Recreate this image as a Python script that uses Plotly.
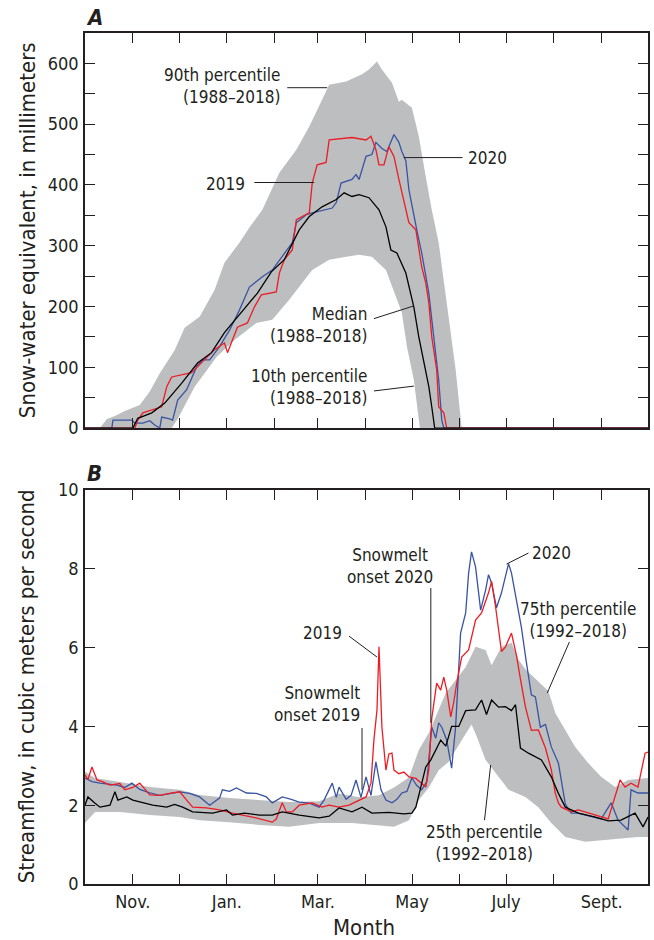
import plotly.graph_objects as go

# ---------------- Data ----------------
# x values are day of water year (0 = Oct 1)
month_start_days = [0, 31, 61, 92, 123, 151, 182, 212, 243, 273, 304, 335, 365]
month_tick_text = ["", "Nov.", "", "Jan.", "", "Mar.", "", "May", "", "July", "", "Sept.", ""]

# Panel A: snow-water equivalent (mm)
swe_p90_day = [9.7, 14.2, 19.4, 25.8, 35.5, 42.0, 48.5, 58.1, 64.6, 74.3, 84.0, 90.4, 100.1, 106.6,
               115.0, 126.0, 137.0, 145.4, 153.7, 158.3, 169.3, 179.6, 184.1, 189.3, 192.5, 199.0,
               203.5, 205.4, 211.9, 216.4, 220.9, 224.8, 229.3, 235.8, 240.3, 244.2]
swe_p90_mm = [0, 15, 20, 28, 38, 60, 90, 128, 165, 183, 227, 272, 305, 330,
              359, 420, 458, 496, 540, 565, 570, 582, 590, 603, 590, 568,
              537, 540, 527, 480, 414, 359, 305, 178, 96, 0]

swe_p10_day = [0, 56.2, 60.1, 71.1, 85.3, 96.9, 111.1, 121.4, 132.4, 138.9, 147.3, 158.3, 169.3,
               177.7, 186.0, 195.1, 199.0, 205.4, 208.7, 213.2, 217.1, 365]
swe_p10_mm = [0, 0, 15, 68, 117, 145, 173, 178, 211, 232, 260, 277, 282,
              285, 282, 260, 232, 190, 134, 79, 0, 0]

swe_med_day = [0, 31.0, 34.2, 43.3, 51.7, 62.7, 73.0, 82.0, 90.4, 101.4, 111.8, 120.8, 129.2, 138.9,
               145.4, 153.7, 162.9, 168.0, 173.1, 177.7, 184.1, 190.6, 195.1, 198.3, 202.2, 208.0,
               210.0, 213.2, 216.4, 219.6, 222.9, 224.8, 226.7, 365]
swe_med_mm = [0, 0, 16, 25, 41, 74, 107, 124, 157, 190, 222, 257, 277, 326,
              348, 364, 376, 387, 381, 384, 379, 359, 331, 293, 288, 255,
              232, 199, 150, 112, 68, 35, 0, 0]

swe_2019_day = [0, 32.3, 34.2, 37.5, 49.7, 53.0, 56.2, 61.4, 69.1, 73.0, 77.5, 84.0, 90.4, 92.4,
                98.8, 105.3, 109.8, 114.3, 124.0, 126.0, 129.2, 134.4, 137.0, 145.4, 147.3, 150.5,
                156.3, 158.3, 173.1, 182.2, 185.4, 188.6, 190.6, 193.8, 197.0, 200.3, 203.5, 206.7,
                210.0, 214.5, 216.4, 218.3, 220.9, 222.9, 224.8, 228.0, 229.3, 232.6, 234.5, 365]
swe_2019_mm = [0, 0, 13, 25, 35, 68, 84, 87, 91, 101, 112, 129, 140, 124,
               166, 173, 199, 219, 224, 255, 277, 293, 343, 354, 403, 433,
               437, 474, 478, 474, 480, 458, 433, 433, 463, 447, 409, 376,
               338, 326, 298, 265, 239, 206, 150, 96, 35, 25, 0, 0]

swe_2020_day = [0, 17.4, 18.1, 30.4, 32.3, 37.5, 42.0, 45.2, 48.5, 49.7, 54.9, 56.8, 60.1, 65.9,
                72.4, 76.2, 80.8, 87.2, 93.7, 100.1, 106.6, 115.0, 121.4, 127.9, 134.4, 137.0,
                143.4, 147.3, 160.3, 162.9, 166.0, 173.1, 175.7, 177.7, 182.2, 186.0, 188.6, 192.5,
                195.7, 200.3, 203.5, 205.4, 208.0, 210.0, 211.9, 215.1, 218.3, 222.9, 226.1, 229.3,
                231.3, 232.6, 365]
swe_2020_mm = [0, 0, 13, 13, 8, 8, 12, 5, 0, 18, 15, 13, 46, 63,
               101, 112, 112, 134, 161, 194, 232, 249, 260, 282, 305, 338,
               351, 354, 362, 371, 403, 409, 417, 409, 447, 450, 470, 460,
               455, 483, 470, 455, 440, 392, 365, 326, 288, 222, 150, 79,
               13, 0, 0]

# Panel B: streamflow (m3/s)
q25_day = [0, 6.5, 22.6, 42.0, 61.4, 74.3, 93.7, 113.1, 132.4, 151.8, 173.1, 200.3, 210.0, 216.4,
           222.9, 229.3, 235.8, 244.2, 250.6, 253.9, 259.7, 266.2, 274.6, 285.5, 293.9, 302.3,
           311.4, 324.3, 334.6, 345.6, 358.5, 365]
q25_val = [1.55, 1.83, 1.83, 1.75, 1.70, 1.62, 1.57, 1.50, 1.45, 1.55, 1.55, 1.45, 1.62, 2.13,
           2.45, 2.89, 3.10, 3.65, 4.05, 3.75, 3.15, 2.82, 2.39, 2.21, 1.95, 1.55,
           1.19, 1.07, 1.12, 1.15, 1.19, 1.19]

q75_day = [0, 6.5, 22.6, 42.0, 61.4, 74.3, 93.7, 113.1, 132.4, 151.8, 164.7, 177.7, 190.6, 200.3,
           210.0, 216.4, 222.9, 233.9, 246.8, 253.2, 259.7, 263.6, 270.0, 276.5, 281.0, 285.5,
           293.9, 300.4, 304.9, 311.4, 317.8, 326.2, 334.6, 343.7, 352.1, 365]
q75_val = [2.85, 2.69, 2.59, 2.46, 2.39, 2.26, 2.18, 2.13, 2.08, 2.10, 2.30, 2.20, 2.25, 2.45,
           2.70, 3.40, 3.83, 4.85, 5.51, 6.02, 5.94, 5.55, 6.02, 6.12, 5.70, 5.45,
           5.15, 4.90, 4.34, 3.91, 3.48, 3.07, 2.72, 2.46, 2.64, 2.69]

qmed_day = [0, 1.9, 6.5, 9.7, 16.2, 19.4, 21.3, 27.1, 31.0, 37.5, 43.9, 53.0, 58.1, 63.3, 69.8,
            82.7, 91.7, 95.6, 103.4, 113.1, 121.4, 127.9, 138.9, 151.8, 158.3, 164.7, 173.1,
            179.6, 186.0, 197.0, 206.7, 211.9, 214.5, 217.7, 220.9, 224.2, 230.6, 233.9, 237.7,
            242.3, 246.8, 253.2, 257.1, 260.3, 263.6, 268.1, 272.6, 276.5, 279.1, 282.3, 287.5,
            295.9, 302.3, 306.9, 311.4, 319.8, 330.8, 339.2, 347.5, 356.6, 361.8, 365]
qmed_val = [2.00, 2.21, 2.05, 1.95, 2.00, 2.34, 2.13, 2.21, 2.13, 2.06, 2.00, 1.95, 2.02, 1.95, 1.83,
            1.80, 1.88, 1.75, 1.80, 1.75, 1.75, 1.83, 1.75, 1.68, 1.72, 1.93, 1.83,
            1.95, 1.80, 1.82, 1.78, 1.80, 1.95, 2.46, 2.97, 3.15, 3.65, 3.50, 4.00,
            4.00, 4.40, 4.42, 4.67, 4.30, 4.67, 4.49, 4.50, 4.40, 4.55, 3.45, 3.32,
            3.15, 2.72, 2.30, 1.95, 1.80, 1.70, 1.60, 1.62, 1.80, 1.45, 1.70]

q2019_day = [0, 1.9, 4.5, 7.8, 11.6, 16.2, 22.6, 25.8, 31.0, 35.5, 42.0, 48.5, 54.9, 61.4, 65.9,
             69.8, 78.8, 87.2, 95.6, 108.5, 121.4, 124.0, 127.9, 130.5, 134.4, 138.9, 147.3, 153.7,
             158.3, 164.7, 171.2, 177.7, 182.2, 185.4, 187.3, 189.3, 190.6, 192.5, 195.1, 197.0,
             199.0, 200.3, 203.5, 206.7, 210.0, 214.5, 220.9, 222.9, 224.8, 228.0, 230.6, 232.6,
             234.5, 237.1, 239.0, 241.0, 244.2, 248.7, 253.2, 257.1, 261.6, 263.6, 266.2, 270.0,
             272.6, 276.5, 279.7, 282.3, 285.5, 289.4, 293.9, 298.5, 302.3, 304.9, 306.9, 308.8,
             315.2, 319.8, 330.8, 339.2, 346.9, 350.1, 354.0, 358.5, 363.1, 365]
q2019_val = [2.77, 2.65, 2.97, 2.64, 2.59, 2.51, 2.55, 2.39, 2.45, 2.56, 2.26, 2.25, 2.30, 2.34, 2.13,
             1.95, 1.93, 1.88, 1.80, 1.70, 1.57, 1.65, 2.06, 1.83, 1.83, 2.00, 2.06, 1.95,
             2.00, 1.95, 2.00, 2.13, 2.21, 2.56, 3.65, 4.42, 6.02, 3.98, 2.89, 3.30,
             3.32, 2.89, 2.80, 2.84, 2.72, 2.68, 2.46, 2.90, 4.20, 5.10, 4.92, 5.25,
             4.92, 4.24, 4.60, 5.10, 5.76, 5.94, 6.70, 6.88, 7.39, 7.68, 7.03, 5.90,
             6.02, 6.37, 5.80, 5.20, 4.50, 3.90, 3.91, 3.45, 2.90, 2.30, 2.06, 1.95,
             1.83, 1.88, 1.75, 1.65, 2.64, 2.46, 2.56, 2.46, 3.32, 3.35]

q2020_day = [0, 4.5, 9.7, 20.7, 25.8, 30.4, 35.5, 42.0, 48.5, 56.8, 61.4, 67.8, 74.3, 80.8, 87.2,
             89.1, 93.7, 98.2, 104.7, 111.1, 117.6, 121.4, 127.9, 133.7, 138.9, 145.4, 151.8,
             155.0, 160.3, 162.9, 164.7, 169.3, 172.5, 175.7, 178.9, 182.2, 185.4, 188.6, 191.9,
             195.1, 199.0, 202.2, 205.4, 208.7, 211.9, 215.1, 218.3, 221.6, 224.8, 227.4, 229.3,
             231.3, 234.5, 237.7, 240.3, 243.5, 246.8, 248.7, 250.6, 253.2, 256.5, 259.7, 261.6,
             263.6, 266.8, 270.0, 274.6, 276.5, 279.7, 282.9, 286.2, 289.4, 292.0, 295.2, 298.5,
             302.3, 306.9, 308.8, 311.4, 315.2, 319.8, 334.6, 341.1, 345.6, 352.1, 354.0, 358.5, 365]
q2020_val = [2.69, 2.60, 2.56, 2.51, 2.45, 2.56, 2.40, 2.31, 2.25, 2.30, 2.34, 2.30, 2.21, 2.00, 2.18,
             2.39, 2.35, 2.44, 2.31, 2.30, 2.21, 2.06, 2.21, 2.15, 2.08, 2.05, 1.95,
             2.13, 2.56, 2.20, 2.46, 2.15, 2.25, 2.64, 2.20, 2.72, 2.25, 3.10, 2.39,
             2.13, 2.06, 2.15, 2.31, 2.35, 2.69, 2.50, 2.39, 2.60, 3.98, 3.70, 4.09,
             3.98, 3.65, 2.94, 4.00, 6.37, 6.88, 7.89, 8.43, 8.05, 6.95, 7.46, 7.85,
             7.64, 7.01, 7.39, 8.13, 7.89, 7.20, 6.52, 5.61, 4.80, 4.75, 3.98, 4.05,
             3.48, 3.07, 2.60, 2.03, 1.80, 1.80, 1.65, 2.06, 1.62, 1.37, 2.39, 2.31, 2.31]

# ---------------- Styles ----------------
FONT = "Liberation Sans Narrow, Arial Narrow, DejaVu Sans Condensed, sans-serif"
INK = "#231f20"
GRAY = "#bcbec0"
RED = "#ed1c24"
BLUE = "#3953a4"
LW = 1.3

fig = go.Figure()

# Panel A band (polygon: 90th going forward, 10th coming back)
band_a_x = swe_p90_day + [d for d in reversed(swe_p10_day) if swe_p90_day[0] <= d <= swe_p90_day[-1]]
band_a_y = swe_p90_mm + [v for d, v in zip(reversed(swe_p10_day), reversed(swe_p10_mm))
                         if swe_p90_day[0] <= d <= swe_p90_day[-1]]
fig.add_trace(go.Scatter(x=band_a_x, y=band_a_y, fill="toself", fillcolor=GRAY,
                         line=dict(width=0), mode="lines", xaxis="x", yaxis="y", hoverinfo="skip"))
fig.add_trace(go.Scatter(x=swe_2020_day, y=swe_2020_mm, mode="lines",
                         line=dict(color=BLUE, width=LW), xaxis="x", yaxis="y"))
fig.add_trace(go.Scatter(x=swe_2019_day, y=swe_2019_mm, mode="lines",
                         line=dict(color=RED, width=LW), xaxis="x", yaxis="y"))
fig.add_trace(go.Scatter(x=swe_med_day, y=swe_med_mm, mode="lines",
                         line=dict(color="black", width=LW), xaxis="x", yaxis="y"))

# Panel B band
band_b_x = q75_day + list(reversed(q25_day))
band_b_y = q75_val + list(reversed(q25_val))
fig.add_trace(go.Scatter(x=band_b_x, y=band_b_y, fill="toself", fillcolor=GRAY,
                         line=dict(width=0), mode="lines", xaxis="x2", yaxis="y2", hoverinfo="skip"))
fig.add_trace(go.Scatter(x=q2020_day, y=q2020_val, mode="lines",
                         line=dict(color=BLUE, width=LW), xaxis="x2", yaxis="y2"))
fig.add_trace(go.Scatter(x=q2019_day, y=q2019_val, mode="lines",
                         line=dict(color=RED, width=LW), xaxis="x2", yaxis="y2"))
fig.add_trace(go.Scatter(x=qmed_day, y=qmed_val, mode="lines",
                         line=dict(color="black", width=LW), xaxis="x2", yaxis="y2"))

axis_common = dict(showgrid=False, zeroline=False, showline=True, linecolor=INK, linewidth=1.5,
                   ticks="inside", ticklen=10, tickwidth=1.2, tickcolor=INK, mirror="ticks",
                   tickfont=dict(family=FONT, size=18, color=INK))

swe_tickvals = list(range(0, 601, 50))
swe_ticktext = [str(v) if v % 100 == 0 else "" for v in swe_tickvals]
q_tickvals = [0, 2, 4, 6, 8, 10]

fig.update_layout(
    width=654, height=940,
    margin=dict(l=85, r=4, t=33, b=56),
    paper_bgcolor="white", plot_bgcolor="white",
    showlegend=False,
    xaxis=dict(axis_common, domain=[0, 1], range=[0, 365], anchor="y",
               tickvals=month_start_days, ticktext=[""] * len(month_start_days)),
    yaxis=dict(axis_common, domain=[0.5358, 1], range=[0, 650], anchor="x",
               tickvals=swe_tickvals, ticktext=swe_ticktext, ticklabelstandoff=1),
    xaxis2=dict(axis_common, domain=[0, 1], range=[0, 365], anchor="y2",
                tickvals=month_start_days, ticktext=month_tick_text, ticklabelstandoff=1),
    yaxis2=dict(axis_common, domain=[0, 0.463], range=[0, 10], anchor="x2",
                tickvals=q_tickvals, ticktext=[str(v) for v in q_tickvals], ticklabelstandoff=1),
)

TXT = dict(family=FONT, size=17, color=INK)
ann = []
shapes = []

def label(text, x, y, xref, yref, xanchor="center", align="center", font=TXT):
    ann.append(dict(text=text, x=x, y=y, xref=xref, yref=yref, showarrow=False,
                    xanchor=xanchor, yanchor="middle", align=align, font=font))

def leader(x0, y0, x1, y1, xref, yref):
    shapes.append(dict(type="line", x0=x0, y0=y0, x1=x1, y1=y1, xref=xref, yref=yref,
                       line=dict(color=INK, width=1)))

# Panel A labels
label("90th percentile<br>(1988–2018)", 127.9, 563, "x", "y", "right", "right")
leader(131.1, 560, 157.0, 560, "x", "y")
label("2019", 105.3, 402, "x", "y", "right", "right")
leader(109.8, 404, 148.6, 404, "x", "y")
label("2020", 246.8, 445, "x", "y", "left", "left")
leader(206.7, 445, 244.8, 445, "x", "y")
label("Median<br>(1988–2018)", 184.1, 169, "x", "y", "right", "right")
leader(187.3, 180, 213.2, 201, "x", "y")
label("10th percentile<br>(1988–2018)", 184.1, 67, "x", "y", "right", "right")
leader(187.3, 61, 213.2, 69, "x", "y")

# Panel B labels
label("2019", 168.0, 6.37, "x2", "y2", "right", "right")
leader(171.2, 6.29, 189.3, 5.76, "x2", "y2")
label("Snowmelt<br>onset 2019", 179.6, 4.56, "x2", "y2", "right", "right")
leader(179.6, 3.96, 179.6, 2.39, "x2", "y2")
label("Snowmelt<br>onset 2020", 197.7, 8.06, "x2", "y2", "center", "center")
leader(224.2, 7.51, 224.2, 4.09, "x2", "y2")
label("2020", 288.8, 8.40, "x2", "y2", "left", "left")
leader(273.3, 8.12, 287.5, 8.40, "x2", "y2")
label("75th percentile<br>(1992–2018)", 319.8, 6.71, "x2", "y2", "center", "center")
leader(314.0, 6.14, 299.7, 4.85, "x2", "y2")
label("25th percentile<br>(1992–2018)", 258.4, 1.03, "x2", "y2", "center", "center")
leader(259.0, 1.62, 263.0, 3.02, "x2", "y2")

# Panel letters and axis titles
BOLD = dict(family=FONT, size=22, color=INK, weight="bold", style="italic")
label("A", 0.0177, 1.0188, "paper", "paper", "center", "center", BOLD)
label("B", 0.0177, 0.4818, "paper", "paper", "center", "center", BOLD)
TITLE = dict(family=FONT, size=22, color=INK)
ann.append(dict(text="Snow-water equivalent, in millimeters", x=-0.1027, y=0.7685,
                xref="paper", yref="paper", showarrow=False, textangle=-90,
                xanchor="center", yanchor="middle", font=TITLE))
ann.append(dict(text="Streamflow, in cubic meters per second", x=-0.1027, y=0.2327,
                xref="paper", yref="paper", showarrow=False, textangle=-90,
                xanchor="center", yanchor="middle", font=TITLE))
label("Month", 0.4956, -0.0517, "paper", "paper", "center", "center", TITLE)

fig.update_layout(annotations=ann, shapes=shapes)
fig.write_html("out.html", config={"displayModeBar": False},
               post_script="document.body.style.margin='0';")
